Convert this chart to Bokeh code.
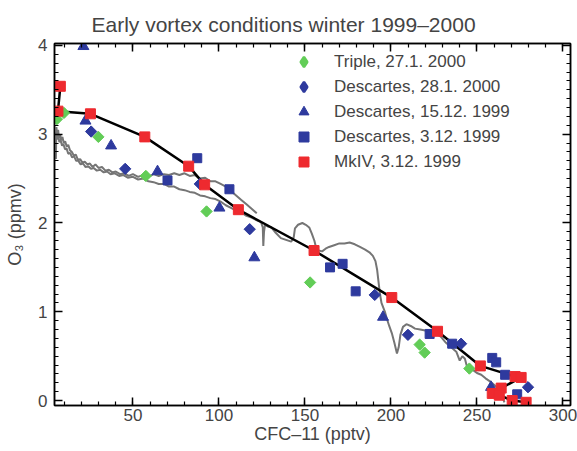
import math
from bokeh.plotting import figure
from bokeh.models import Range1d, LinearAxis, FixedTicker, Legend, LegendItem
from bokeh.embed import file_html
from bokeh.resources import INLINE

TITLE = "Early vortex conditions winter 1999\u20132000"
X_LABEL = "CFC\u201311 (pptv)"
Y_LABEL = "O\u2083 (ppmv)"
x_ticks = [50, 100, 150, 200, 250, 300]
x_minor = list(range(10, 301, 10))
y_ticks = [0, 1, 2, 3, 4]
y_minor = [i / 10 for i in range(0, 41)]

# Triple, 27.1. 2000
triple_cfc = [5.8, 9.9, 29.9, 57.5, 92.8, 153.0, 216.7, 219.6, 245.6]
triple_o3 = [3.17, 3.24, 2.97, 2.53, 2.13, 1.33, 0.63, 0.54, 0.36]

# Descartes, 28.1. 2000
desc281_cfc = [25.7, 45.5, 88.9, 117.9, 190.6, 209.9, 240.8, 279.7]
desc281_o3 = [3.03, 2.61, 2.44, 1.93, 1.19, 0.74, 0.64, 0.15]

# Descartes, 15.12. 1999
desc1512_cfc = [21.2, 22.4, 37.3, 64.3, 100.3, 120.6, 195.4, 258.2]
desc1512_o3 = [3.99, 3.15, 2.87, 2.58, 2.17, 1.61, 0.94, 0.15]

# Descartes, 3.12. 1999
desc312_cfc = [70.1, 87.4, 106.1, 164.6, 171.9, 179.5, 222.5, 235.6, 258.9, 261.2, 266.4, 273.4]
desc312_o3 = [2.48, 2.73, 2.38, 1.50, 1.54, 1.23, 0.75, 0.64, 0.48, 0.43, 0.29, 0.07]

# MkIV, 3.12. 1999 (also joined by the black line, in profile order)
mkiv_cfc = [7.8, 6.4, 25.3, 56.9, 82.4, 91.7, 111.3, 155.3, 200.5, 227.1, 252.0, 272.2, 275.7,
            264.1, 258.9, 263.0, 270.5, 278.6]
mkiv_o3 = [3.54, 3.26, 3.23, 2.97, 2.64, 2.43, 2.15, 1.69, 1.16, 0.78, 0.39, 0.27, 0.26,
           0.14, 0.08, 0.06, 0.00, -0.02]

# in-situ trace, upper branch
traceA_cfc = [5.2, 5.5, 6.0, 6.5, 7.0, 7.6, 8.2, 9.0, 9.8, 10.6, 11.5, 12.4, 13.4, 14.5, 15.6,
              16.8, 18.0, 19.3, 20.6, 22.0, 23.5, 25.0, 26.6, 28.2, 30.0, 32.0, 34.0, 36.0,
              38.0, 40.0, 42.5, 45.0, 47.5, 50.0, 53.0, 56.0, 59.0, 62.0, 65.0, 68.0, 71.0,
              74.0, 77.0, 80.0, 83.0, 86.0, 89.0, 92.0, 95.0, 98.0, 101.0, 104.0, 107.0,
              110.0, 113.0, 116.0, 119.0, 122.0]
traceA_o3 = [2.72, 3.08, 2.98, 3.05, 2.96, 3.00, 2.93, 2.97, 2.90, 2.92, 2.86, 2.88, 2.82, 2.80,
             2.76, 2.77, 2.71, 2.72, 2.68, 2.69, 2.66, 2.67, 2.63, 2.66, 2.62, 2.63, 2.59, 2.60,
             2.57, 2.58, 2.55, 2.56, 2.53, 2.55, 2.52, 2.54, 2.52, 2.55, 2.53, 2.55, 2.54, 2.56,
             2.54, 2.56, 2.53, 2.54, 2.50, 2.51, 2.47, 2.47, 2.44, 2.41, 2.36, 2.31, 2.26, 2.21,
             2.16, 2.11]

# in-situ trace, lower branch
traceB_cfc = [5.4, 6.0, 6.6, 7.2, 8.0, 8.8, 9.6, 10.5, 11.4, 12.4, 13.5, 14.6, 15.8, 17.0, 18.3,
              19.6, 21.0, 22.5, 24.0, 25.6, 27.2, 29.0, 31.0, 33.0, 35.0, 37.0, 39.5, 42.0, 44.5,
              47.0, 50.0, 53.0, 56.0, 59.0, 62.0, 65.0, 68.0, 71.0, 74.0, 77.0, 80.0, 83.0, 86.0,
              89.0, 92.0, 95.0, 98.0, 101.0, 104.0, 107.0, 110.0, 113.0, 116.0, 119.0, 122.0,
              124.5, 125.5, 125.8, 126.2, 126.8, 128.5, 130.5, 133.0, 136.0, 139.0, 142.0, 143.5,
              144.2, 146.0, 148.5, 150.5, 152.5, 154.0, 155.5, 156.5, 158.0, 160.0, 162.0, 164.0,
              167.0, 170.0, 173.0, 176.0, 179.0, 182.0, 185.0, 187.5, 189.5, 191.0, 192.0, 193.0,
              193.8, 194.5, 195.5, 196.5, 197.5, 199.0, 200.5, 202.0, 203.5, 204.5, 205.5, 207.0,
              209.0, 211.5, 214.0, 217.0, 220.0, 223.0, 226.0, 229.0, 232.0, 235.0, 238.0, 240.0,
              241.5, 243.0, 244.5, 246.0, 248.0, 250.0, 252.5, 255.0, 258.0, 261.0, 263.5, 265.0,
              266.0]
traceB_o3 = [3.02, 2.94, 2.99, 2.91, 2.93, 2.87, 2.89, 2.83, 2.84, 2.78, 2.79, 2.74, 2.75, 2.70,
             2.70, 2.66, 2.67, 2.63, 2.64, 2.61, 2.62, 2.59, 2.60, 2.57, 2.58, 2.55, 2.56, 2.53,
             2.54, 2.51, 2.52, 2.49, 2.50, 2.47, 2.46, 2.44, 2.44, 2.41, 2.41, 2.38, 2.37, 2.35,
             2.34, 2.31, 2.30, 2.28, 2.27, 2.24, 2.20, 2.17, 2.14, 2.12, 2.08, 2.06, 2.03, 2.01,
             1.95, 1.74, 1.90, 1.98, 1.96, 1.95, 1.89, 1.83, 1.81, 1.79, 1.84, 1.94, 1.98, 2.00,
             1.98, 1.95, 1.88, 1.80, 1.72, 1.69, 1.68, 1.71, 1.73, 1.75, 1.77, 1.77, 1.78, 1.76,
             1.73, 1.70, 1.67, 1.63, 1.57, 1.47, 1.30, 1.18, 1.10, 1.05, 1.00, 0.93, 0.84, 0.76,
             0.65, 0.53, 0.60, 0.74, 0.83, 0.86, 0.84, 0.81, 0.80, 0.79, 0.79, 0.76, 0.72, 0.65,
             0.60, 0.55, 0.45, 0.50, 0.47, 0.36, 0.39, 0.34, 0.31, 0.29, 0.25, 0.21, 0.16, 0.10,
             0.03, -0.02]

FONT = "Liberation Sans"
GREEN = "#62cd57"
BLUE = "#2e3a9e"
RED = "#ee2a2f"
GRAY = "#757575"

p = figure(width=577, height=451, x_range=Range1d(4.4, 304.4), y_range=Range1d(-0.056, 4.022),
           output_backend="svg", toolbar_location=None,
           min_border_left=54, min_border_right=7, min_border_top=43, min_border_bottom=46)
p.grid.visible = False
p.outline_line_color = "black"
p.outline_line_width = 1.5
p.background_fill_color = "white"
p.border_fill_color = "white"

p.title.text = TITLE
p.title.align = "left"
p.title.offset = 37
p.title.text_font = FONT
p.title.text_font_size = "21px"
p.title.text_font_style = "normal"
p.title.standoff = 15

bottom_ax = p.below[0]
left_ax = p.left[0]
bottom_ax.axis_label = X_LABEL
left_ax.axis_label = Y_LABEL
bottom_ax.ticker = FixedTicker(ticks=x_ticks, minor_ticks=x_minor)
left_ax.ticker = FixedTicker(ticks=y_ticks, minor_ticks=y_minor)

top_ax = LinearAxis(ticker=FixedTicker(ticks=x_ticks, minor_ticks=x_minor))
right_ax = LinearAxis(ticker=FixedTicker(ticks=y_ticks, minor_ticks=y_minor))
p.add_layout(top_ax, "above")
p.add_layout(right_ax, "right")

for ax in [bottom_ax, left_ax, top_ax, right_ax]:
    ax.major_tick_in = 8
    ax.major_tick_out = 0
    ax.minor_tick_in = 4
    ax.minor_tick_out = 0
    ax.axis_line_width = 1.5
    ax.major_tick_line_width = 1.5
    ax.minor_tick_line_width = 1.2
    ax.major_label_text_font = FONT
    ax.major_label_text_font_size = "17px"
    ax.axis_label_text_font = FONT
    ax.axis_label_text_font_size = "18px"
    ax.axis_label_text_font_style = "normal"

for ax in [top_ax, right_ax]:
    ax.major_label_text_font_size = "1px"
    ax.major_label_text_color = None
    ax.major_label_standoff = 0

bottom_ax.major_label_standoff = 3
bottom_ax.axis_label_standoff = 0
left_ax.major_label_standoff = 7
left_ax.axis_label_standoff = 10

# in-situ traces
p.line(traceA_cfc, traceA_o3, line_color=GRAY, line_width=2)
p.line(traceB_cfc, traceB_o3, line_color=GRAY, line_width=2)
# MkIV profile line
p.line(mkiv_cfc, mkiv_o3, line_color="black", line_width=2.5)

# diamond symbols: a narrow diamond underneath (used for the legend key) and a
# 45-degree rotated square on top giving the symmetric diamond shape in the plot
leg_tri = p.scatter(triple_cfc, triple_o3, marker="diamond", size=8,
                    fill_color=GREEN, line_color=GREEN, line_width=2.5)
r_tri = p.scatter(triple_cfc, triple_o3, marker="square", angle=math.pi / 4, size=8,
                  fill_color=GREEN, line_color=GREEN)
leg_d281 = p.scatter(desc281_cfc, desc281_o3, marker="diamond", size=8,
                     fill_color=BLUE, line_color=BLUE, line_width=2.5)
r_d281 = p.scatter(desc281_cfc, desc281_o3, marker="square", angle=math.pi / 4, size=8,
                   fill_color=BLUE, line_color=BLUE)
r_d1512 = p.scatter(desc1512_cfc, desc1512_o3, marker="triangle", size=11,
                    fill_color=BLUE, line_color=BLUE)
r_d312 = p.scatter(desc312_cfc, desc312_o3, marker="square", size=9,
                   fill_color=BLUE, line_color=BLUE)
r_mk = p.scatter(mkiv_cfc, mkiv_o3, marker="square", size=10, fill_color=RED, line_color=RED)

legend = Legend(items=[
    LegendItem(label="Triple, 27.1. 2000", renderers=[leg_tri]),
    LegendItem(label="Descartes, 28.1. 2000", renderers=[leg_d281]),
    LegendItem(label="Descartes, 15.12. 1999", renderers=[r_d1512]),
    LegendItem(label="Descartes, 3.12. 1999", renderers=[r_d312]),
    LegendItem(label="MkIV, 3.12. 1999", renderers=[r_mk]),
], location=(237, 231), border_line_color=None, background_fill_alpha=0,
    label_text_font=FONT, label_text_font_size="17px", glyph_width=25, glyph_height=25,
    label_height=25, spacing=0, padding=0, margin=0, label_standoff=18)
p.add_layout(legend)

open("out.html", "w").write(file_html(p, INLINE))
